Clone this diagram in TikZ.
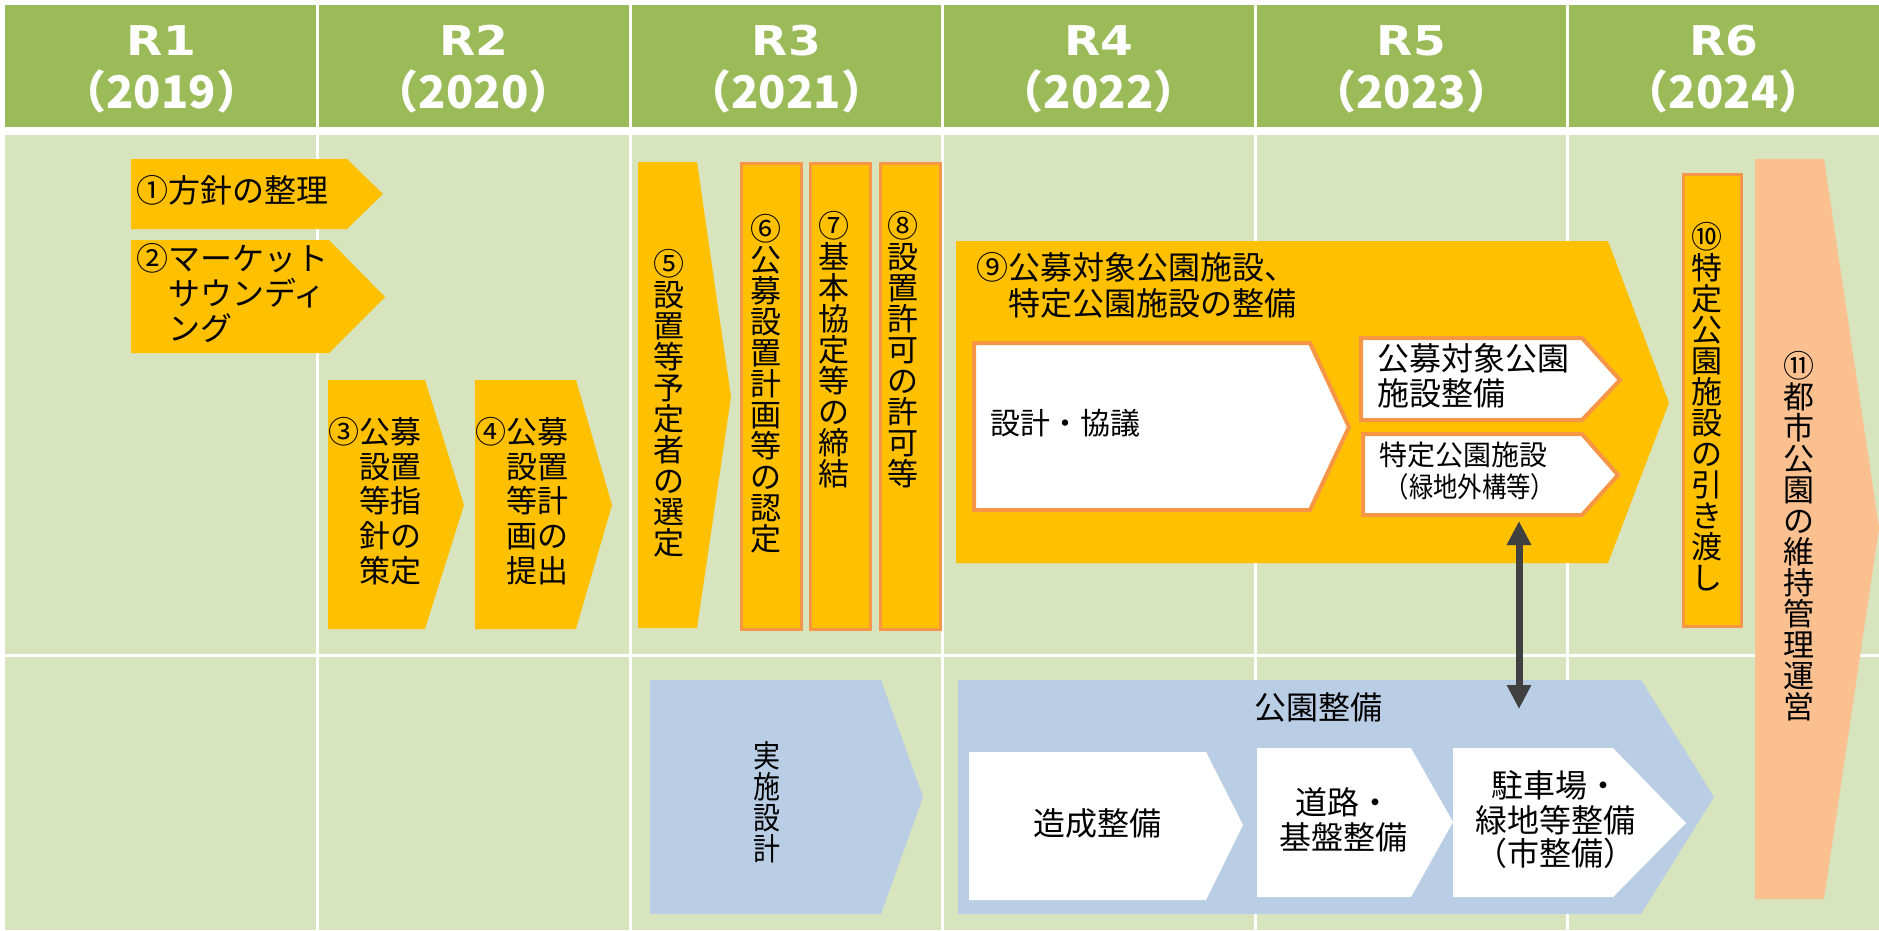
\documentclass[tikz,border=0pt]{standalone}
\usepackage{fontspec}
\usepackage{graphicx}
\usetikzlibrary{arrows.meta}
\newfontfamily\jp{Noto Sans CJK JP}
\newfontfamily\jpn[FakeStretch=0.87]{Noto Sans CJK JP}
\newfontfamily\hdr{DejaVu Sans}
\definecolor{cHead}{HTML}{9BBB59}
\definecolor{cBody}{HTML}{D7E4BD}
\definecolor{cY}{HTML}{FFC000}
\definecolor{cO}{HTML}{F79646}
\definecolor{cB}{HTML}{B9CDE5}
\definecolor{cP}{HTML}{FAC090}
\definecolor{cA}{HTML}{404040}
\makeatletter
\newcommand\vst[1]{\vbox{\offinterlineskip\@tfor\vs@c:=#1\do{\hbox to 1em{\hss\vs@c\hss\vrule height .88em depth .12em width 0pt}}}}
\makeatother
\begin{document}
\begin{tikzpicture}[x=1pt,y=-1pt,
  jt/.style={font=\jp\fontsize{#1}{#1}\selectfont, inner sep=0pt, text=black,
    execute at begin node={\vrule width 0pt height .88em depth .12em}},
  jtn/.style={font=\jpn\fontsize{#1}{#1}\selectfont, inner sep=0pt, text=black,
    execute at begin node={\vrule width 0pt height .88em depth .12em}},
  vt/.style={font=\jp\fontsize{#1}{#1}\selectfont, inner sep=0pt, text=black, anchor=north},
  vtn/.style={font=\jpn\fontsize{#1}{#1}\selectfont, inner sep=0pt, text=black, anchor=north},
  hdA/.style={font=\hdr\bfseries\fontsize{41}{41}\selectfont, text=white, inner sep=0pt, anchor=base},
  hdB/.style={font=\jp\bfseries\fontsize{45}{45}\selectfont, text=white, inner sep=0pt, anchor=base},
  ychev/.style={fill=cY},
  obox/.style={fill=cY, draw=cO, line width=3pt},
  wbox/.style={fill=white, draw=cO, line width=4pt},
  bchev/.style={fill=cB},
  wchev/.style={fill=white},
  pchev/.style={fill=cP},
  grid/.style={white, line width=3pt}]
\useasboundingbox (0,0) rectangle (1879,930);
\fill[white] (0,0) rectangle (1879,930);
% header and body background
\fill[cHead] (5,5) rectangle (1879,127);
\fill[cBody] (5,135) rectangle (1879,930);
\foreach \x in {317.5,630,942.5,1255,1567.5} \draw[grid] (\x,0) -- (\x,930);
\draw[grid] (0,655) -- (1879,655);
% header labels
\foreach \i/\r/\yr in {0/R1/2019,1/R2/2020,2/R3/2021,3/R4/2022,4/R5/2023,5/R6/2024}{
  \node[hdA] (hr\i) at ({161.25+312.5*\i},55) {\scalebox{1.15}[1]{\r}};
  \node[hdB] (hy\i) at ({161.25+312.5*\i},108) {（\yr）};
}
% yellow chevrons
\fill[ychev] (131,159) -- (347,159) -- (383,194) -- (347,229) -- (131,229) -- cycle;
\fill[ychev] (131,240) -- (329,240) -- (385,297) -- (329,353) -- (131,353) -- cycle;
\fill[ychev] (328,380) -- (425,380) -- (464,505) -- (425,629) -- (328,629) -- cycle;
\fill[ychev] (475,380) -- (576,380) -- (612,505) -- (576,629) -- (475,629) -- cycle;
\fill[ychev] (638,162) -- (697,162) -- (731,397) -- (697,628) -- (638,628) -- cycle;
\draw[obox] (741.5,163.5) rectangle (801.5,629.5);
\draw[obox] (810.5,163.5) rectangle (870.5,629.5);
\draw[obox] (880.5,163.5) rectangle (940.5,629.5);
\fill[ychev] (956,241) -- (1608,241) -- (1669,403) -- (1608,563) -- (956,563) -- cycle;
\draw[wbox] (974,343) -- (1310,343) -- (1349,427) -- (1310,510) -- (974,510) -- cycle;
\draw[wbox] (1361,338) -- (1582,338) -- (1620,380) -- (1582,420) -- (1361,420) -- cycle;
\draw[wbox] (1363,434) -- (1582,434) -- (1618,475) -- (1582,515) -- (1363,515) -- cycle;
\draw[obox] (1683.5,174.5) rectangle (1741.5,626.5);
\fill[pchev] (1755,159) -- (1824,159) -- (1879,528) -- (1824,899) -- (1755,899) -- cycle;
% blue chevrons
\fill[bchev] (650,680) -- (881,680) -- (923,797) -- (881,914) -- (650,914) -- cycle;
\fill[bchev] (958,680) -- (1641,680) -- (1714,797) -- (1641,914) -- (958,914) -- cycle;
\fill[wchev] (969,752) -- (1206,752) -- (1243,825) -- (1206,900) -- (969,900) -- cycle;
\fill[wchev] (1257,748) -- (1411,748) -- (1453,822) -- (1411,897) -- (1257,897) -- cycle;
\fill[wchev] (1453,748) -- (1613,748) -- (1686,823) -- (1613,897) -- (1453,897) -- cycle;
% texts
\node[jt=32, anchor=west] (t1) at (136,190) {①方針の整理};
\node[jt=32, anchor=west] (t2a) at (136,258) {②マーケット};
\node[jt=32, anchor=west] (t2b) at (168,293) {サウンディ};
\node[jt=32, anchor=west] (t2c) at (168,328) {ング};
\node[jt=31, anchor=west] (t3a) at (328,432) {③公募};
\node[jt=31, anchor=west] (t3b) at (359,466.6) {設置};
\node[jt=31, anchor=west] (t3c) at (359,501.2) {等指};
\node[jt=31, anchor=west] (t3d) at (359,535.8) {針の};
\node[jt=31, anchor=west] (t3e) at (359,570.4) {策定};
\node[jt=31, anchor=west] (t4a) at (475,432) {④公募};
\node[jt=31, anchor=west] (t4b) at (506,466.6) {設置};
\node[jt=31, anchor=west] (t4c) at (506,501.2) {等計};
\node[jt=31, anchor=west] (t4d) at (506,535.8) {画の};
\node[jt=31, anchor=west] (t4e) at (506,570.4) {提出};
\node[vt=31] (t5) at (669,248) {\vst{⑤設置等予定者の選定}};
\node[vt=31] (t6) at (766,213) {\vst{⑥公募設置計画等の認定}};
\node[vt=31] (t7) at (834,210) {\vst{⑦基本協定等の締結}};
\node[vt=31] (t8) at (903,210) {\vst{⑧設置許可の許可等}};
\node[jt=32, anchor=west] (t9a) at (976,267) {⑨公募対象公園施設、};
\node[jt=32, anchor=west] (t9b) at (1008,303) {特定公園施設の整備};
\node[jt=30, anchor=west] (t9c) at (990,423) {設計・協議};
\node[jt=32, anchor=west] (t9d) at (1377,358) {公募対象公園};
\node[jt=32, anchor=west] (t9e) at (1377,393) {施設整備};
\node[jt=28, anchor=west] (t9f) at (1379,455) {特定公園施設};
\node[jtn=28, anchor=center] (t9g) at (1470,487) {（緑地外構等）};
\node[vt=31] (t10) at (1707,221) {\vst{⑩特定公園施設の引き渡し}};
\node[vt=31] (t11) at (1799,350) {\vst{⑪都市公園の維持管理運営}};
\node[vtn=31] (tb1) at (767,740) {\vst{実施設計}};
\node[jt=32, anchor=center] (tb2) at (1318,707) {公園整備};
\node[jt=32, anchor=center] (tb3) at (1097,823) {造成整備};
\node[jt=32, anchor=center] (tb4a) at (1343,802) {道路・};
\node[jt=32, anchor=center] (tb4b) at (1343,837) {基盤整備};
\node[jt=32, anchor=center] (tb5a) at (1555,785) {駐車場・};
\node[jt=32, anchor=center] (tb5b) at (1555,820) {緑地等整備};
\node[jt=32, anchor=center] (tb5c) at (1555,853) {（市整備）};
% double arrow
\coordinate (aT) at (1519,521);
\coordinate (aB) at (1519,709);
\draw[cA, line width=7pt, {Triangle[width=23pt,length=24pt]}-{Triangle[width=23pt,length=24pt]}] (aT) -- (aB);
\end{tikzpicture}
\end{document}
